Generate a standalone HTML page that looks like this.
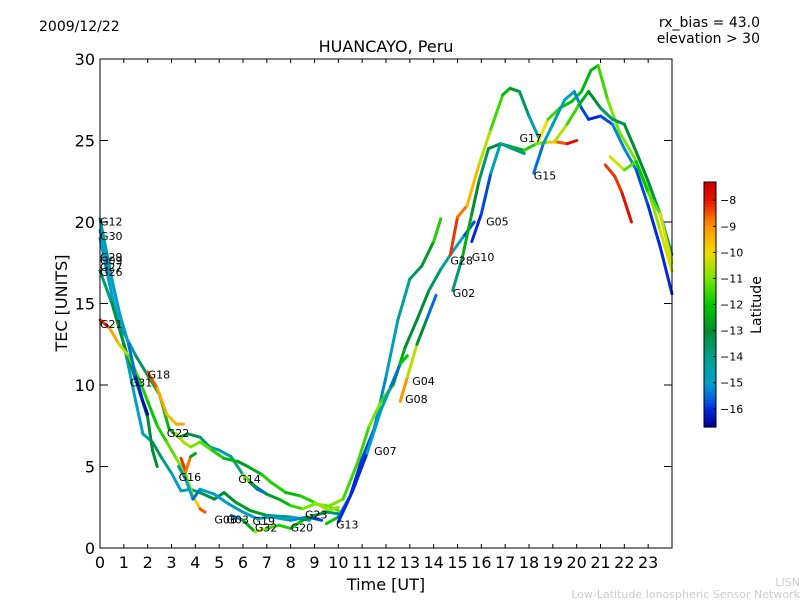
<!DOCTYPE html>
<html><head><meta charset="utf-8">
<style>
body{margin:0;background:#fff;font-family:"Liberation Sans","DejaVu Sans",sans-serif;}
svg text{font-family:"DejaVu Sans","Liberation Sans",sans-serif;}
</style></head>
<body>
<svg id="chart" width="800" height="600" xmlns="http://www.w3.org/2000/svg">
<rect width="800" height="600" fill="#fff"/>
<text x="39" y="31" font-size="14">2009/12/22</text>
<text x="760" y="27" font-size="14" text-anchor="end">rx_bias = 43.0</text>
<text x="760" y="43" font-size="14" text-anchor="end">elevation &gt; 30</text>
<text x="386" y="52" font-size="16" text-anchor="middle">HUANCAYO, Peru</text>
<text x="386" y="590" font-size="16" text-anchor="middle">Time [UT]</text>
<text transform="translate(67,303) rotate(-90)" font-size="16" text-anchor="middle">TEC [UNITS]</text>
<text x="800" y="586" font-size="11" fill="#ccc" text-anchor="end">LISN</text>
<text x="800" y="598" font-size="11" fill="#ccc" text-anchor="end">Low-Latitude Ionospheric Sensor Network</text>
<g id="plot"></g>
<g id="axes"></g>
<g id="cbar"></g>
</svg>
<script>
const xTicks=[0,1,2,3,4,5,6,7,8,9,10,11,12,13,14,15,16,17,18,19,20,21,22,23];
const yTicks=[0,5,10,15,20,25,30];
const cbTicks=[-8,-9,-10,-11,-12,-13,-14,-15,-16];
const latMin=-16.7, latMax=-7.3;
// tracks: [time, TEC, latitude]
const trkG31=[[0,19.5,-15],[0.4,17,-15],[0.8,14.5,-15],[1.2,12.5,-15],[1.5,10.5,-16],[1.8,9,-16.3],[2,8.2,-16.6]];
const trkG30=[[0,19,-15],[0.5,15.5,-15],[1,12.5,-15],[1.5,9,-15],[1.8,7,-15],[2.2,6.5,-14],[2.6,5.5,-13],[3,4.6,-15],[3.4,3.5,-15],[3.8,3.6,-14],[4.2,3.4,-13.5],[4.8,3,-13],[5.2,3.4,-13],[5.7,2.8,-13],[6.3,2.3,-12.5],[7,2,-13],[8,1.9,-14.5],[8.8,1.7,-15]];
const trkG12=[[0,20.2,-14.5],[0.5,16.5,-14.5],[1,13.2,-14],[1.5,11.8,-14],[2,10.6,-13],[2.5,9.4,-12],[2.9,7.3,-12.5],[3.3,6.8,-12.5],[3.7,7,-13],[4.2,6.8,-13.5],[4.6,6.2,-14],[5,6,-14.5],[5.5,5.6,-14.5],[6,4.5,-13.5],[6.5,3.8,-13],[7,3.3,-13],[7.5,3,-12.5],[8,2.6,-12],[8.5,2.4,-11],[9,2.7,-11],[9.5,2.6,-11],[10,2.3,-11.5]];
const trkG26=[[0,17,-14],[0.5,15,-13.5],[1,12.5,-13],[1.5,10.3,-13],[2,8,-13],[2.2,6,-13],[2.4,5,-13]];
const trkG21=[[0,14,-8],[0.4,13.5,-8.5],[0.8,12.5,-10],[1.2,11.8,-11],[1.6,10.5,-11.5],[2,9,-12],[2.4,7.5,-12],[2.8,6.5,-11.5],[3.2,5.5,-11],[3.6,4.5,-11],[3.9,3.2,-10.5],[4.2,2.4,-9],[4.4,2.2,-8]];
const trkG18=[[2,10.8,-8],[2.4,9.8,-9],[2.8,8.2,-9.5],[3.2,7.6,-9.5],[3.5,7.6,-9]];
const trkG22=[[3.2,7,-11],[3.5,6.5,-10.5],[3.8,6.2,-11],[4.2,6.5,-11],[4.7,6,-11.5],[5.2,5.5,-12],[5.8,5.3,-12.5],[6.2,5,-13],[6.8,4.5,-12],[7.2,4,-11.5],[7.8,3.4,-12],[8.4,3.2,-12.5],[9,2.8,-11],[9.6,2.3,-10.5],[10,2.5,-11]];
const trkG16=[[3.4,5.5,-8],[3.6,4.7,-8.5],[3.8,5.6,-9],[4,5.8,-16]];
const trkG14=[[3.3,5,-14.5],[3.6,4.2,-14],[3.9,3,-16],[4.2,3.6,-15],[4.8,3.3,-15],[5.4,2.7,-15],[6,2.2,-14.5],[6.6,1.8,-15],[7.2,1.9,-15],[8,1.7,-15],[8.7,1.9,-15.5],[9.3,1.7,-16]];
const trkG14b=[[6,4.5,-10],[6.3,4,-12],[6.6,3.6,-15],[6.9,3.4,-16]];
const trkG20=[[5.5,2,-15.5],[6,1.7,-15],[6.5,1,-10],[7,1.2,-11],[7.5,1.4,-12],[8,1.2,-11.5],[8.5,1.7,-12.5],[9,2,-13],[9.5,2.2,-13.5],[10,2.1,-14]];
const trkG13=[[9.5,1.5,-9],[10,1.9,-15],[10.5,3.2,-16],[11,5.5,-16],[11.5,7.3,-15.5],[12,10.5,-15],[12.5,14,-14.5],[13,16.5,-14],[13.5,17.3,-13],[14,18.8,-12.5],[14.3,20.2,-11]];
const trkG07=[[9.5,2.5,-11],[10.2,3,-11],[10.8,5.2,-12],[11.3,7.5,-11],[11.8,9,-11],[12.3,10,-12],[12.8,12.3,-13],[13.3,14,-13],[13.8,15.8,-13],[14.3,17.1,-14],[14.8,18.2,-14.5],[15.3,19.2,-15.5],[15.7,20,-16]];
const trkG08=[[10,1.6,-16],[10.6,3.5,-16],[11.2,5.8,-16],[11.8,8.5,-14],[12.2,9.9,-15],[12.6,11.3,-16],[12.9,11.8,-8]];
const trkG04=[[12.6,9,-8],[12.9,10.5,-10],[13.3,12.5,-11],[13.7,14,-15],[14.1,15.5,-16]];
const trkG02=[[14.8,15.8,-14.5],[15.2,17.8,-13],[15.6,20.5,-12],[15.9,22.5,-14],[16.3,24.5,-13],[16.8,24.8,-13],[17.3,24.6,-13],[17.8,24.4,-12],[18.3,24.8,-11.5],[18.8,24.9,-10.5],[19.2,24.9,-9],[19.6,24.8,-8],[20,25,-7.5]];
const trkG05=[[14.7,18,-8],[15,20.3,-8.5],[15.4,21,-9],[15.9,23.5,-10],[16.4,25.7,-11],[16.9,27.8,-12],[17.2,28.2,-12.5],[17.6,28,-13],[18,26.5,-14],[18.4,25.2,-15]];
const trkG10=[[15.6,18.8,-16],[16,20.5,-16],[16.4,23,-15.5],[16.8,24.8,-14],[17.3,24.5,-14],[17.8,24.2,-13.5]];
const trkG17=[[18.4,25,-9],[18.8,26.3,-11],[19.3,27,-12],[19.8,27.4,-12],[20.2,28,-12],[20.6,29.3,-12.5],[20.9,29.6,-12],[21.3,27.5,-11],[21.8,25.5,-11],[22.4,24,-11],[23,22,-11],[23.5,19.5,-10.5],[24,17,-10]];
const trkG15=[[18.2,23,-16],[18.6,24.8,-15],[19,26,-14.5],[19.5,27.5,-14.5],[19.9,28,-15],[20.2,27,-15.5],[20.5,26.3,-16],[21,26.5,-16],[21.5,26,-15.5],[22,24.5,-15],[22.5,23.2,-15.5],[23,21,-16],[23.5,18.5,-16],[24,15.6,-16]];
const trkG29=[[19.1,25,-10],[19.6,26,-11],[20.1,27.2,-12],[20.5,28,-13],[21,27,-13],[21.5,26.3,-14],[22,26,-13],[22.5,24.3,-13],[23,22.5,-13],[23.5,20.5,-13.5],[24,18,-14]];
const trkG27=[[21.2,23.5,-8],[21.6,22.8,-8.5],[21.9,21.8,-8],[22.3,20,-7.8]];
const trkG09=[[21.4,24,-10],[22,23.2,-10.5],[22.5,23.7,-12],[23,21.8,-12],[23.5,20.5,-10.5],[24,17.5,-10]];
const tracks=[trkG30,trkG26,trkG12,trkG21,trkG18,trkG22,trkG16,trkG14,trkG14b,trkG20,trkG31,trkG13,trkG07,trkG08,trkG04,trkG02,trkG05,trkG10,trkG17,trkG15,trkG29,trkG27,trkG09];
const labelNames=["G12","G30","G29","G09","G27","G26","G21","G31","G18","G22","G16","G14","G06","G03","G19","G32","G20","G23","G13","G07","G08","G04","G02","G28","G10","G05","G17","G15"];
const labelTimes=[0,0,0,0,0,0,0,1.25,2,2.8,3.3,5.8,4.8,5.3,6.4,6.5,8,8.6,9.9,11.5,12.8,13.1,14.8,14.7,15.6,16.2,17.6,18.2];
const labelTecs=[19.8,18.9,17.6,17.4,17,16.7,13.5,9.9,10.4,6.8,4.1,4,1.5,1.5,1.4,1,1,1.8,1.2,5.7,8.9,10,15.4,17.4,17.6,19.8,24.9,22.6];

const X0=100,X1=672,Y0=548,Y1=59;
const xs=t=>X0+(X1-X0)*t/24;
const ys=v=>Y0-(Y0-Y1)*v/30;
const NS="http://www.w3.org/2000/svg";
const cmapLat=[-16.7,-16,-15.5,-15,-14,-13,-12,-11,-10,-9,-8,-7.3];
const cmapRGB=[[0,0,140],[0,40,220],[0,110,220],[0,160,200],[0,160,140],[0,140,50],[0,200,0],[120,230,0],[240,220,0],[255,150,0],[230,20,0],[200,0,0]];
function latColor(l){
 if(l<=cmapLat[0])return `rgb(${cmapRGB[0].join(',')})`;
 for(let i=0;i<cmapLat.length-1;i++){
  if(l<=cmapLat[i+1]){const f=(l-cmapLat[i])/(cmapLat[i+1]-cmapLat[i]);
   const c=cmapRGB[i].map((v,k)=>Math.round(v+(cmapRGB[i+1][k]-v)*f));return `rgb(${c.join(',')})`;}
 }
 return `rgb(${cmapRGB[cmapRGB.length-1].join(',')})`;
}
function mk(tag,attrs,parent){const e=document.createElementNS(NS,tag);for(const k in attrs)e.setAttribute(k,attrs[k]);parent.appendChild(e);return e;}
const plot=document.getElementById('plot'),axes=document.getElementById('axes'),cbar=document.getElementById('cbar');
tracks.forEach((tr,ti)=>{
 const g=mk('g',{},plot);
 
 
 for(let i=0;i<tr.length-1;i++){
  const a=tr[i],b=tr[i+1];
  const s=mk('line',{x1:xs(a[0]),y1:ys(a[1]),x2:xs(b[0]),y2:ys(b[1]),stroke:latColor((a[2]+b[2])/2),'stroke-width':3,'stroke-linecap':'round'},g);
  
  
 }
});
labelNames.forEach((n,i)=>{
 const t=mk('text',{x:xs(labelTimes[i]),y:ys(labelTecs[i]),'font-size':11},plot);
 t.textContent=n;
 
 
});
const frame=mk('rect',{x:X0,y:Y1,width:X1-X0,height:Y0-Y1,fill:'none',stroke:'#000','stroke-width':1},axes);


xTicks.forEach(t=>{
 const x=xs(t);
 mk('line',{x1:x,y1:Y0,x2:x,y2:Y0-4,stroke:'#000'},axes);
 mk('line',{x1:x,y1:Y1,x2:x,y2:Y1+4,stroke:'#000'},axes);
 const l=mk('text',{x:x,y:Y0+20,'font-size':16,'text-anchor':'middle'},axes);
 l.textContent=t;
 
 
});
yTicks.forEach(v=>{
 const y=ys(v);
 mk('line',{x1:X0,y1:y,x2:X0+8,y2:y,stroke:'#000'},axes);
 mk('line',{x1:X1,y1:y,x2:X1-8,y2:y,stroke:'#000'},axes);
 const l=mk('text',{x:X0-5,y:y+6,'font-size':16,'text-anchor':'end'},axes);
 l.textContent=v;
 
 
});
// colorbar
const CB={x:704,w:12,top:182,bot:427};
const cy=l=>CB.bot-(CB.bot-CB.top)*(l-latMin)/(latMax-latMin);
const NSTEP=80;
for(let i=0;i<NSTEP;i++){
 const l0=latMin+(latMax-latMin)*i/NSTEP,l1=latMin+(latMax-latMin)*(i+1)/NSTEP;
 mk('rect',{x:CB.x,y:cy(l1),width:CB.w,height:cy(l0)-cy(l1)+0.6,fill:latColor((l0+l1)/2)},cbar);
}
mk('rect',{x:CB.x,y:CB.top,width:CB.w,height:CB.bot-CB.top,fill:'none',stroke:'#000'},cbar);
cbTicks.forEach(v=>{
 const y=cy(v);
 mk('line',{x1:CB.x+CB.w-3,y1:y,x2:CB.x+CB.w,y2:y,stroke:'#000'},cbar);
 const l=mk('text',{x:CB.x+CB.w+4,y:y+4,'font-size':11},cbar);
 l.textContent='\u2212'+Math.abs(v);
 
 
});
const ct=mk('text',{transform:'translate(761,305) rotate(-90)','font-size':14,'text-anchor':'middle'},cbar);
ct.textContent='Latitude';


</script>
</body></html>
